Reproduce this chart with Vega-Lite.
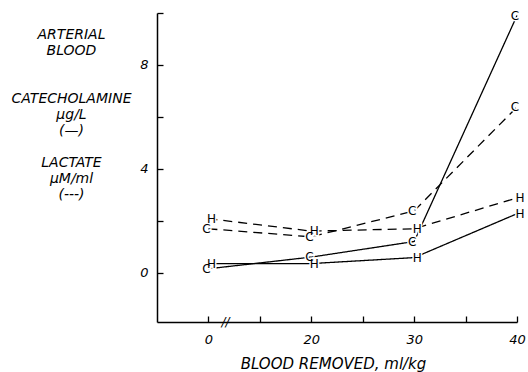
{
  "$schema": "https://vega.github.io/schema/vega-lite/v6.json",
  "width": 360,
  "height": 309,
  "autosize": {"type": "none"},
  "padding": {"left": 157, "top": 13, "right": 11, "bottom": 50},
  "background": "white",
  "config": {"view": {"stroke": null}, "font": "DejaVu Sans"},
  "datasets": {
    "points": [
      {"removed": 0, "value": 0.15, "measure": "Catecholamine", "group": "C", "series": "Cat-C"},
      {"removed": 20, "value": 0.6, "measure": "Catecholamine", "group": "C", "series": "Cat-C"},
      {"removed": 30, "value": 1.2, "measure": "Catecholamine", "group": "C", "series": "Cat-C"},
      {"removed": 40, "value": 9.9, "measure": "Catecholamine", "group": "C", "series": "Cat-C"},
      {"removed": 0, "value": 0.35, "measure": "Catecholamine", "group": "H", "series": "Cat-H"},
      {"removed": 20, "value": 0.35, "measure": "Catecholamine", "group": "H", "series": "Cat-H"},
      {"removed": 30, "value": 0.58, "measure": "Catecholamine", "group": "H", "series": "Cat-H"},
      {"removed": 40, "value": 2.27, "measure": "Catecholamine", "group": "H", "series": "Cat-H"},
      {"removed": 0, "value": 1.69, "measure": "Lactate", "group": "C", "series": "Lac-C"},
      {"removed": 20, "value": 1.38, "measure": "Lactate", "group": "C", "series": "Lac-C"},
      {"removed": 30, "value": 2.38, "measure": "Lactate", "group": "C", "series": "Lac-C"},
      {"removed": 40, "value": 6.38, "measure": "Lactate", "group": "C", "series": "Lac-C"},
      {"removed": 0, "value": 2.08, "measure": "Lactate", "group": "H", "series": "Lac-H"},
      {"removed": 20, "value": 1.6, "measure": "Lactate", "group": "H", "series": "Lac-H"},
      {"removed": 30, "value": 1.69, "measure": "Lactate", "group": "H", "series": "Lac-H"},
      {"removed": 40, "value": 2.88, "measure": "Lactate", "group": "H", "series": "Lac-H"}
    ],
    "breaks": [
      {"removed": 5, "value": -1.9, "label": "//"}
    ]
  },
  "data": {"name": "points"},
  "encoding": {
    "x": {
      "field": "removed",
      "type": "quantitative",
      "scale": {"domain": [-5, 0, 15, 40], "range": [0, 51.4, 102.9, 360], "nice": false, "zero": false},
      "axis": {
        "values": [0, 15, 20, 25, 30, 35, 40],
        "labelExpr": "datum.value==15||datum.value==25||datum.value==35 ? '' : datum.label",
        "title": "BLOOD REMOVED, ml/kg",
        "grid": false,
        "domainColor": "black",
        "domainWidth": 1.5,
        "tickColor": "black",
        "tickWidth": 1.3,
        "tickSize": -6,
        "labelPadding": 17,
        "labelFont": "DejaVu Sans",
        "labelFontStyle": "italic",
        "labelFontSize": 13,
        "labelColor": "black",
        "labelFlush": false,
        "labelOverlap": false,
        "titleFont": "DejaVu Sans",
        "titleFontStyle": "italic",
        "titleFontWeight": "normal",
        "titleFontSize": 15,
        "titleColor": "black",
        "titleX": 176,
        "titleY": 46,
        "titleAlign": "center",
        "titleBaseline": "alphabetic"
      }
    },
    "y": {
      "field": "value",
      "type": "quantitative",
      "scale": {"domain": [-1.9, 10], "nice": false, "zero": false},
      "axis": {
        "values": [0, 2, 4, 6, 8, 10],
        "labelExpr": "datum.value==0||datum.value==4||datum.value==8 ? datum.label : ''",
        "grid": false,
        "domainColor": "black",
        "domainWidth": 1.5,
        "tickColor": "black",
        "tickWidth": 1.3,
        "tickSize": -6,
        "labelPadding": 15,
        "labelFont": "DejaVu Sans",
        "labelFontStyle": "italic",
        "labelFontSize": 13,
        "labelColor": "black",
        "labelFlush": false,
        "labelOverlap": false,
        "title": ["ARTERIAL", "BLOOD", "\u200b", "\u200b", "CATECHOLAMINE", "µg/L", "(—)", "\u200b", "LACTATE", "µM/ml", "(---)"],
        "titleFont": "DejaVu Sans",
        "titleFontStyle": "italic",
        "titleFontWeight": "normal",
        "titleFontSize": 14,
        "titleColor": "black",
        "titleAngle": 0,
        "titleX": -86,
        "titleY": 25,
        "titleAlign": "center",
        "titleBaseline": "alphabetic",
        "titleLineHeight": 16
      }
    }
  },
  "layer": [
    {
      "mark": {"type": "line", "color": "black", "strokeWidth": 1.3},
      "encoding": {
        "detail": {"field": "series"},
        "strokeDash": {
          "field": "measure",
          "type": "nominal",
          "scale": {"domain": ["Catecholamine", "Lactate"], "range": [[1, 0], [9, 6]]},
          "legend": null
        }
      }
    },
    {
      "transform": [{"filter": "datum.group == 'C'"}],
      "mark": {"type": "text", "fontSize": 12, "dx": -2, "fill": "white", "stroke": "white", "strokeWidth": 3},
      "encoding": {"text": {"field": "group"}}
    },
    {
      "transform": [{"filter": "datum.group == 'H'"}],
      "mark": {"type": "text", "fontSize": 12, "dx": 3, "fill": "white", "stroke": "white", "strokeWidth": 3},
      "encoding": {"text": {"field": "group"}}
    },
    {
      "transform": [{"filter": "datum.group == 'C'"}],
      "mark": {"type": "text", "fontSize": 12, "dx": -2, "color": "black"},
      "encoding": {"text": {"field": "group"}}
    },
    {
      "transform": [{"filter": "datum.group == 'H'"}],
      "mark": {"type": "text", "fontSize": 12, "dx": 3, "color": "black"},
      "encoding": {"text": {"field": "group"}}
    },
    {
      "data": {"name": "breaks"},
      "mark": {"type": "text", "fontSize": 12, "fontStyle": "italic", "color": "black"},
      "encoding": {"text": {"field": "label"}}
    }
  ]
}
